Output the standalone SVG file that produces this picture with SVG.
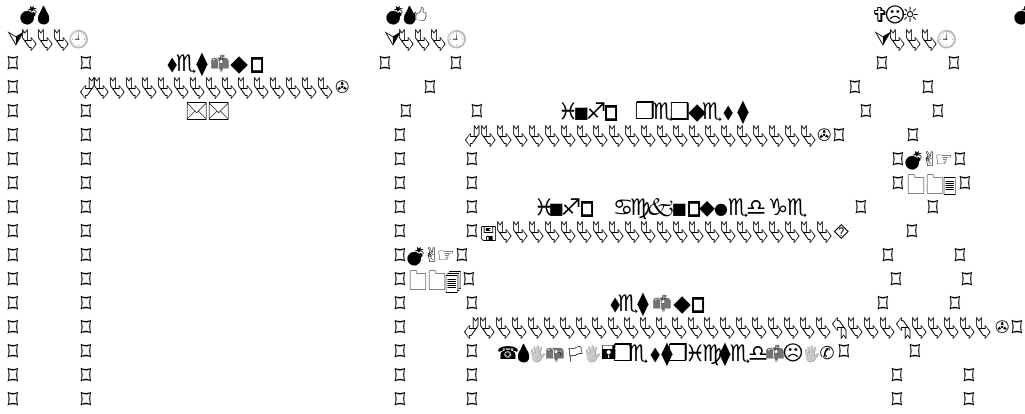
<svg xmlns="http://www.w3.org/2000/svg" width="1025" height="414" viewBox="0 0 1025 414">
<style>
text{font-family:"DejaVu Sans","Noto Sans",sans-serif;fill:#000;text-anchor:middle;filter:grayscale(1)}
.q{font-size:21px}
.r{font-size:21px}
.t{font-size:23px}
.n{font-size:16px}
.b{font-size:17px;stroke:#000;stroke-width:1}
.s{font-size:20px}
.h{font-size:15px}
.f{font-size:18px}
.u{font-size:21px}
.i{font-size:17px}
.p{font-size:20px}
.e{font-size:17px}
.k{font-size:17px;filter:grayscale(1) brightness(0)}
.g{font-size:16px;filter:grayscale(1) brightness(1.15) contrast(1.8)}
</style>
<rect width="1025" height="414" fill="#fff"/>
<g id="lifeline-squares">
<text class="q" transform="matrix(1 0 0 1.3 0 73)" x="13 86 385 456 882 954">⌑⌑⌑⌑⌑⌑</text>
<text class="q" transform="matrix(1 0 0 1.3 0 97)" x="13 430 855 928">⌑⌑⌑⌑</text>
<text class="q" transform="matrix(1 0 0 1.3 0 121)" x="13 86 406 477 866 938">⌑⌑⌑⌑⌑⌑</text>
<text class="q" transform="matrix(1 0 0 1.3 0 145)" x="13 86 400 839 913">⌑⌑⌑⌑⌑</text>
<text class="q" transform="matrix(1 0 0 1.3 0 169)" x="13 86 400 472 898 960">⌑⌑⌑⌑⌑⌑</text>
<text class="q" transform="matrix(1 0 0 1.3 0 193)" x="13 86 400 472 898 965">⌑⌑⌑⌑⌑⌑</text>
<text class="q" transform="matrix(1 0 0 1.3 0 217)" x="13 86 400 472 861 933">⌑⌑⌑⌑⌑⌑</text>
<text class="q" transform="matrix(1 0 0 1.3 0 241)" x="13 86 400 472 912">⌑⌑⌑⌑⌑</text>
<text class="q" transform="matrix(1 0 0 1.3 0 265)" x="13 86 400 462 888 960">⌑⌑⌑⌑⌑⌑</text>
<text class="q" transform="matrix(1 0 0 1.3 0 289)" x="13 86 400 469 896 967">⌑⌑⌑⌑⌑⌑</text>
<text class="q" transform="matrix(1 0 0 1.3 0 313)" x="13 86 400 472 883 955">⌑⌑⌑⌑⌑⌑</text>
<text class="q" transform="matrix(1 0 0 1.3 0 337)" x="13 86 400 1017">⌑⌑⌑⌑</text>
<text class="q" transform="matrix(1 0 0 1.3 0 361)" x="13 86 400 472 844 915">⌑⌑⌑⌑⌑⌑</text>
<text class="q" transform="matrix(1 0 0 1.3 0 385)" x="13 86 400 472 897 969">⌑⌑⌑⌑⌑⌑</text>
<text class="q" transform="matrix(1 0 0 1.3 0 409)" x="13 86 400 472 897 969">⌑⌑⌑⌑⌑⌑</text>
</g>
<g id="node-ms">
<text class="k" x="28" y="21">💣</text><text class="k" x="43" y="21">💧</text>
<text class="r" x="16" y="46">⮛</text>
<text class="r" transform="matrix(1 0 0 1.4 0 50)" x="30 46 62">⮱⮱⮱</text>
<text class="e" x="78" y="45">🕘</text>
</g>
<g id="node-msc">
<text class="k" x="394" y="21">💣</text><text class="k" x="409" y="21">💧</text><text class="h" x="420" y="20">🖒</text>
<text class="r" x="393" y="46">⮛</text>
<text class="r" transform="matrix(1 0 0 1.4 0 50)" x="407 423 439">⮱⮱⮱</text>
<text class="e" x="456" y="45">🕘</text>
</g>
<g id="node-ulr">
<text class="u" x="880 895 910" y="22">✞☹☼</text>
<text class="r" x="883" y="46">⮛</text>
<text class="r" transform="matrix(1 0 0 1.4 0 50)" x="898 914 930">⮱⮱⮱</text>
<text class="e" x="946" y="45">🕘</text>
</g>
<g id="node-m"><text class="k" x="1022" y="21">💣</text></g>
<g id="node-maf-004">
<text class="k" x="415" y="262">💣</text>
<text class="p" x="432 446" y="262">✌☞</text>
<text class="f" transform="matrix(1 0 0 1.5 0 290)" x="418">🗀</text><text class="f" transform="matrix(1 0 0 1.5 0 290)" x="437">🗀</text><text class="i" transform="matrix(1 0 0 1.2 0 290)" x="454">🗐</text>
</g>
<g id="node-maf-003">
<text class="k" x="913" y="166">💣</text>
<text class="p" x="930 944" y="166">✌☞</text>
<text class="f" transform="matrix(1 0 0 1.5 0 194)" x="916">🗀</text><text class="f" transform="matrix(1 0 0 1.5 0 194)" x="935">🗀</text><text class="i" transform="matrix(1 0 0 1.2 0 194)" x="950">🗏</text>
</g>
<g id="connectors">
<text class="r" transform="matrix(1 0 0 1.4 0 98)" x="88 102 118 134 150 166 182 198 214 230 246 262 278 294 310 326">⮰⮱⮱⮱⮱⮱⮱⮱⮱⮱⮱⮱⮱⮱⮱⮱</text>
<text class="i" x="342" y="93">✇</text>
<text class="r" transform="matrix(1 0 0 1.4 0 146)" x="473 489 505 521 537 553 569 585 601 617 633 649 665 681 697 713 729 745 761 777 793 809">⮰⮱⮱⮱⮱⮱⮱⮱⮱⮱⮱⮱⮱⮱⮱⮱⮱⮱⮱⮱⮱⮱</text>
<text class="i" x="824" y="141">✇</text>
<text class="s" x="488" y="240">🖫</text>
<text class="r" transform="matrix(1 0 0 1.4 0 242)" x="505 521 537 553 569 585 601 617 633 649 665 681 697 713 729 745 761 777 793 809 825">⮱⮱⮱⮱⮱⮱⮱⮱⮱⮱⮱⮱⮱⮱⮱⮱⮱⮱⮱⮱⮱</text>
<text class="r" x="841" y="239">⯑</text>
<text class="r" transform="matrix(1 0 0 1.4 0 338)" x="472 488 504 520 536 552 568 584 600 616 632 648 664 680 696 712 728 744 760 776 792 808 824 840 856 872 888 904 920 936 952 968 984">⮰⮱⮱⮱⮱⮱⮱⮱⮱⮱⮱⮱⮱⮱⮱⮱⮱⮱⮱⮱⮱⮱⮱⮲⮱⮱⮱⮲⮱⮱⮱⮱⮱</text>
<text class="i" x="1002" y="333">✇</text>
</g>
<g id="labels">
<text class="t" x="172 186 202" y="71">⬧♏⧫</text><text class="g" x="220" y="69">📫</text><text class="t" x="239" y="71">◆</text><text class="b" transform="matrix(1 0 0 1.35 0 71)" x="257">◻</text>
<text class="s" transform="matrix(1 0 0 1.3 0 119)" x="197">🖂</text>
<text class="s" transform="matrix(1 0 0 1.3 0 119)" x="219">🖂</text>
<text class="t" x="568" y="119">♓</text><text class="n" x="581" y="118">■</text><text class="t" x="596" y="119">♐</text><text class="b" transform="matrix(1 0 0 1.35 0 119)" x="611">◻</text>
<text class="t" x="645 663 680 697 712 728 743" y="119">❒♏❑◆♏⬧⧫</text>
<text class="t" x="544" y="215">♓</text><text class="n" x="556" y="214">■</text><text class="t" x="571" y="215">♐</text><text class="b" transform="matrix(1 0 0 1.35 0 215)" x="587">◻</text>
<text class="t" x="623 640" y="215">♋♍</text>
<text class="t" x="660" y="215">🙵</text>
<text class="n" x="679" y="214">■</text><text class="b" transform="matrix(1 0 0 1.35 0 215)" x="694">◻</text>
<text class="t" x="707" y="215">⬥</text><text class="n" x="721" y="214">●</text><text class="t" x="738 756 778 797" y="215">♏♎♑♏</text>
<text class="t" x="615 628 643" y="311">⬧♏⧫</text><text class="g" x="662" y="309">📫</text><text class="t" x="682" y="311">◆</text><text class="b" transform="matrix(1 0 0 1.35 0 311)" x="698">◻</text>
<text class="f" x="508" y="359">☎</text><text class="k" x="523" y="359">💧</text><text class="h" x="537" y="359">🖐</text><text class="g" x="555" y="359">📪</text><text class="h" x="575" y="359">🏳</text><text class="h" x="592" y="359">🖐</text><text class="f" x="608" y="359">🖬</text>
<text class="t" x="623 638 655 667 678 695 712 725 740 758" y="361">❒♏⬧⧫❒♓♍⧫♏♎</text>
<text class="g" x="775" y="359">📫</text>
<text class="u" x="793" y="360">☹</text><text class="h" x="811" y="359">🖐</text><text class="f" x="827" y="359">✆</text>
</g>
</svg>
